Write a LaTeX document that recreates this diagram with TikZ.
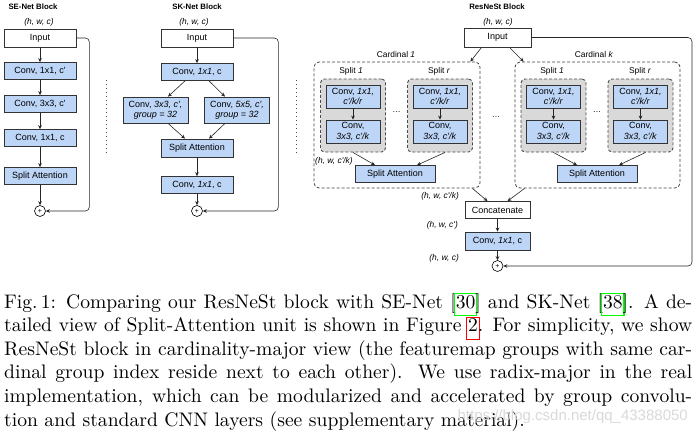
\documentclass[tikz,border=0pt]{standalone}
\usepackage{fontspec}
\newfontfamily\dsans{Liberation Sans}
\newfontfamily\capfont{lmroman10-regular.otf}
\usetikzlibrary{arrows.meta,calc}
\definecolor{bblue}{HTML}{BDD5F6}
\definecolor{sgray}{HTML}{D9D9D9}
\definecolor{lgreen}{RGB}{0,255,0}
\definecolor{lred}{RGB}{255,0,0}
\newcommand\lbox[2]{{\fboxsep=0.8pt\fboxrule=1.1pt\kern-1.9pt\textcolor{#1}{\fbox{\textcolor{black}{\rule[-6.5pt]{0pt}{17.5pt}#2}}}\kern-1.9pt}}
\newcommand\capline[1]{\makebox[688pt][s]{#1}}
\begin{document}
\begin{tikzpicture}[x=1pt,y=-1pt,
  every node/.style={font=\dsans\fontsize{9}{10.2}\selectfont},
  bx/.style={draw=black!80, line width=0.75pt, fill=bblue, inner sep=0pt, align=center, minimum height=17pt},
  wbx/.style={bx, fill=white},
  arr/.style={-{Stealth[length=4pt,width=3.6pt]}, line width=0.6pt, draw=black!85},
  plus/.style={circle, draw=black, line width=0.6pt, fill=white, inner sep=0pt, minimum size=11pt, font=\dsans\fontsize{7}{7}\selectfont},
  ttl/.style={font=\dsans\bfseries\fontsize{7.8}{9}\selectfont},
  dimlbl/.style={font=\dsans\itshape\fontsize{8.4}{9}\selectfont},
  lbl/.style={font=\dsans\fontsize{8.4}{9.6}\selectfont},
  card/.style={draw=black!75, dash pattern=on 3pt off 2pt, line width=0.8pt, rounded corners=5pt, inner sep=0pt},
  splitbx/.style={draw=black!70, dash pattern=on 3pt off 2pt, line width=0.9pt, fill=sgray, rounded corners=4pt, inner sep=0pt},
  vsep/.style={draw=black!70, line width=0.8pt, dash pattern=on 0.8pt off 3.2pt},
  captxt/.style={font=\capfont\fontsize{19.6}{23.6}\selectfont, inner sep=0pt, anchor=base west}
]
\useasboundingbox (0,0) rectangle (698,434);

% ---------------- SE-Net ----------------
\node[ttl] (setitle) at (33,7) {SE-Net Block};
\node[dimlbl] (sedim) at (39,22.5) {(h, w, c)};
\node[wbx, minimum width=72pt, minimum height=18pt] (sein) at (40,38) {Input};
\node[bx, minimum width=72pt] (sec1) at (40,71) {Conv, 1x1, c'};
\node[bx, minimum width=72pt] (sec2) at (40,104) {Conv, 3x3, c'};
\node[bx, minimum width=72pt] (sec3) at (40,138) {Conv, 1x1, c};
\node[bx, minimum width=72pt] (sesa) at (40,176) {Split Attention};
\node[plus] (seplus) at (40,211) {+};
\draw[arr] (sein) -- (sec1);
\draw[arr] (sec1) -- (sec2);
\draw[arr] (sec2) -- (sec3);
\draw[arr] (sec3) -- (sesa);
\draw[arr] (sesa) -- (seplus);
\draw[arr, rounded corners=4pt] (sein.east) -- ++(13,0) |- (seplus.east);

\draw[vsep] (106,80) -- (106,153);

% ---------------- SK-Net ----------------
\node[ttl] (sktitle) at (197,7) {SK-Net Block};
\node[dimlbl] (skdim) at (194,22.5) {(h, w, c)};
\node[wbx, minimum width=72pt, minimum height=18pt] (skin) at (197,38) {Input};
\node[bx, minimum width=72pt] (skc1) at (197,72) {Conv, \textit{1x1}, c};
\node[bx, minimum width=65pt, minimum height=26pt] (skl) at (155.5,110) {Conv, \textit{3x3, c',}\\\textit{group = 32}};
\node[bx, minimum width=65pt, minimum height=26pt] (skr) at (237,110) {Conv, \textit{5x5, c',}\\\textit{group = 32}};
\node[bx, minimum width=72pt, minimum height=18pt] (sksa) at (197,148) {Split Attention};
\node[bx, minimum width=72pt] (skc2) at (197,185) {Conv, \textit{1x1}, c};
\node[plus] (skplus) at (197,211) {+};
\draw[arr] (skin) -- (skc1);
\draw[arr] ($(skc1.south)+(-12,0)$) -- ($(skl.north)+(12.5,0)$);
\draw[arr] ($(skc1.south)+(12,0)$) -- ($(skr.north)+(-12,0)$);
\draw[arr] ($(skl.south)+(12.5,0)$) -- ($(sksa.north)+(-12,0)$);
\draw[arr] ($(skr.south)+(-12,0)$) -- ($(sksa.north)+(12,0)$);
\draw[arr] (sksa) -- (skc2);
\draw[arr] (skc2) -- (skplus);
\draw[arr, rounded corners=4pt] (skin.east) -- ++(45,0) |- (skplus.east);

\draw[vsep] (296,80) -- (296,153);

% ---------------- ResNeSt ----------------
\node[ttl] (rtitle) at (497,7) {ResNeSt Block};
\node[dimlbl] (rdim) at (498,22.5) {(h, w, c)};
\node[wbx, minimum width=67pt, minimum height=19pt] (rin) at (497.5,37.5) {Input};

% Cardinal 1
\node[card, minimum width=166pt, minimum height=126pt] (ca) at (397,125) {};
\node[lbl] (calbl) at (396,54) {Cardinal \textit{1}};
\node[lbl] (ca1lbl) at (351,71) {Split \textit{1}};
\node[lbl] (ca2lbl) at (439,71) {Split \textit{r}};
\node[splitbx, minimum width=65pt, minimum height=73pt] (cas1) at (353,115.5) {};
\node[splitbx, minimum width=65pt, minimum height=73pt] (cas2) at (440,115.5) {};
\node[bx, minimum width=54pt, minimum height=23pt] (cas1a) at (353,96.5) {Conv, \textit{1x1,}\\\textit{c'/k/r}};
\node[bx, minimum width=54pt, minimum height=23pt] (cas1b) at (353,131.5) {Conv,\\\textit{3x3, c'/k}};
\node[bx, minimum width=54pt, minimum height=23pt] (cas2a) at (440,96.5) {Conv, \textit{1x1,}\\\textit{c'/k/r}};
\node[bx, minimum width=54pt, minimum height=23pt] (cas2b) at (440,131.5) {Conv,\\\textit{3x3, c'/k}};
\node[lbl] (cadots) at (396.5,112) {…};
\node[bx, minimum width=80pt] (casa) at (395,174) {Split Attention};
\node[dimlbl, anchor=west, inner sep=0pt] (cadim) at (315,161.5) {(h, w, c'/k)};
\draw[arr] (cas1a) -- (cas1b);
\draw[arr] (cas2a) -- (cas2b);
\draw[arr] (cas1.south) -- ($(casa.north)+(-20,0)$);
\draw[arr] ($(cas2.south)+(5,0)$) -- ($(casa.north)+(22,0)$);

\node[lbl] (middots) at (496,117) {…};

% Cardinal k
\node[card, minimum width=165pt, minimum height=126pt] (ck) at (597.5,125) {};
\node[lbl] (cklbl) at (594,54) {Cardinal \textit{k}};
\node[lbl] (ck1lbl) at (552,71) {Split \textit{1}};
\node[lbl] (ck2lbl) at (640,71) {Split \textit{r}};
\node[splitbx, minimum width=65pt, minimum height=73pt] (cks1) at (553.5,115.5) {};
\node[splitbx, minimum width=65pt, minimum height=73pt] (cks2) at (640.5,115.5) {};
\node[bx, minimum width=54pt, minimum height=23pt] (cks1a) at (553.5,96.5) {Conv, \textit{1x1,}\\\textit{c'/k/r}};
\node[bx, minimum width=54pt, minimum height=23pt] (cks1b) at (553.5,131.5) {Conv,\\\textit{3x3, c'/k}};
\node[bx, minimum width=54pt, minimum height=23pt] (cks2a) at (640.5,96.5) {Conv, \textit{1x1,}\\\textit{c'/k/r}};
\node[bx, minimum width=54pt, minimum height=23pt] (cks2b) at (640.5,131.5) {Conv,\\\textit{3x3, c'/k}};
\node[lbl] (ckdots) at (597,112) {…};
\node[bx, minimum width=80pt] (cksa) at (597,174) {Split Attention};
\draw[arr] (cks1a) -- (cks1b);
\draw[arr] (cks2a) -- (cks2b);
\draw[arr] (cks1.south) -- ($(cksa.north)+(-20,0)$);
\draw[arr] ($(cks2.south)+(5,0)$) -- ($(cksa.north)+(22,0)$);

\draw[arr] ($(rin.south west)+(18,0)$) -- ($(ca.north east)+(-10,0)$);
\draw[arr] ($(rin.south east)+(-22,0)$) -- ($(ck.north west)+(9,0)$);

% bottom
\node[wbx, minimum width=65pt] (rcat) at (497.5,210) {Concatenate};
\node[bx, minimum width=65pt, minimum height=18pt] (rconv) at (497.5,241) {Conv, \textit{1x1}, c};
\node[plus] (rplus) at (497.5,266) {+};
\node[dimlbl, anchor=east, inner sep=0pt] (rdim1) at (459,196.5) {(h, w, c'/k)};
\node[dimlbl, anchor=east, inner sep=0pt] (rdim2) at (458,225) {(h, w, c')};
\node[dimlbl, anchor=east, inner sep=0pt] (rdim3) at (459,258) {(h, w, c)};
\draw[arr] ($(ca.south east)+(-8,0)$) -- ($(rcat.north)+(-10,0)$);
\draw[arr] ($(ck.south west)+(10,0)$) -- ($(rcat.north)+(10,0)$);
\draw[arr] (rcat) -- (rconv);
\draw[arr] (rconv) -- (rplus);
\draw[arr, rounded corners=4pt] (rin.east) -- (692,37.5) |- (rplus.east);

% ---------------- caption ----------------
\node[captxt] (l1) at (4,308) {\capline{Fig.\,1: Comparing our ResNeSt block with SE-Net [\lbox{lgreen}{30}] and SK-Net [\lbox{lgreen}{38}]. A de-}};
\node[captxt] (l2) at (4,331.6) {\capline{tailed view of Split-Attention unit is shown in Figure \lbox{lred}{2}. For simplicity, we show}};
\node[captxt] (l3) at (4,355.2) {\capline{ResNeSt block in cardinality-major view (the featuremap groups with same car-}};
\node[captxt] (l4) at (4,378.8) {\capline{dinal group index reside next to each other). We use radix-major in the real}};
\node[captxt] (l5) at (4,402.4) {\capline{implementation, which can be modularized and accelerated by group convolu-}};
\node[captxt] (l6) at (4,426) {tion and standard CNN layers (see supplementary material).};
\node[font=\dsans\fontsize{15}{16}\selectfont, text=black!15, anchor=base east, inner sep=0pt] (wm) at (688,420) {https://blog.csdn.net/qq\_43388050};
\end{tikzpicture}
\end{document}
